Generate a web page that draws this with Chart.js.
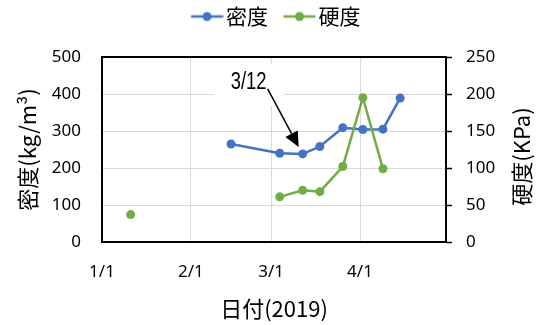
<!DOCTYPE html>
<html>
<head>
<meta charset="utf-8">
<script src="https://cdn.jsdelivr.net/npm/chart.js@4/dist/chart.umd.min.js"></script>
<style>
  html, body { margin: 0; padding: 0; background: #fff; overflow: hidden; }
  #wrap { width: 542px; height: 325px; }
</style>
</head>
<body>
<div id="wrap"><canvas id="chart"></canvas></div>
<script>
  // sampling dates (2019)
  const dates = ["1/11", "2/15", "3/4", "3/12", "3/18", "3/26", "4/2", "4/9", "4/15"];
  // 密度 kg/m3 (left axis)
  const density = [null, 265, 240, 238, 258, 309, 304, 305, 389];
  // 硬度 KPa (right axis)
  const hardness = [37, null, 61, 70, 68, 102, 195, 99, null];
  const xTickLabels = ["1/1", "2/1", "3/1", "4/1"];
  const xEnd = "5/1";
  const seriesNames = ["密度", "硬度"];
  const annotationDate = "3/12";
  const xTitle = "日付(2019)";
  const leftTitle = "密度(kg/m³)";
  const rightTitle = "硬度(KPa)";

  const BLUE = "#4472C4";
  const GREEN = "#70AD47";
  const GRID = "#d9d9d9";
  const tickFont = { family: "'Noto Sans', sans-serif", size: 17 };
  const titleFont = { family: "'Noto Sans CJK JP', sans-serif", size: 22 };

  // day number counted from 1/1
  const dayOf = (md) => {
    const [m, d] = md.split("/").map(Number);
    return (Date.UTC(2019, m - 1, d) - Date.UTC(2019, 0, 1)) / 86400000;
  };
  const tickDays = xTickLabels.map(dayOf);

  // line + dot legend marker
  function legendMarker(color) {
    const c = document.createElement("canvas");
    c.width = 50;
    c.height = 12;
    const g = c.getContext("2d");
    g.strokeStyle = color;
    g.lineWidth = 2.5;
    g.beginPath();
    g.moveTo(17.5, 6);
    g.lineTo(49.5, 6);
    g.stroke();
    g.fillStyle = color;
    g.beginPath();
    g.arc(33.5, 6, 4.5, 0, Math.PI * 2);
    g.fill();
    return c;
  }

  // make the legend take the whole top band
  const legendHeight = {
    id: "legendHeight",
    beforeInit(chart) {
      const fit = chart.legend.fit;
      chart.legend.fit = function () {
        fit.call(this);
        this.height = 57;
      };
    },
  };

  // top frame line, right title, 3/12 callout
  const extras = {
    id: "extras",
    afterDraw(chart) {
      const { ctx, chartArea } = chart;
      ctx.save();
      ctx.strokeStyle = "#000";
      ctx.lineWidth = 2;
      ctx.beginPath();
      ctx.moveTo(chartArea.left - 1, chartArea.top);
      ctx.lineTo(chartArea.right + 1, chartArea.top);
      ctx.stroke();

      // right axis title, reads bottom to top
      ctx.translate(522, (chartArea.top + chartArea.bottom) / 2 + 7);
      ctx.rotate(-Math.PI / 2);
      ctx.fillStyle = "#000";
      ctx.font = "22px 'Noto Sans CJK JP', sans-serif";
      ctx.textAlign = "center";
      ctx.textBaseline = "middle";
      ctx.fillText(rightTitle, 0, 0);
      ctx.restore();

      // callout
      const pt = chart.getDatasetMeta(0).data[dates.indexOf(annotationDate)];
      const cx = pt.x - 54;
      const cy = pt.y - 71;
      ctx.save();
      ctx.fillStyle = "#fff";
      ctx.fillRect(cx - 35, cy - 19, 70, 42);
      ctx.fillStyle = "#000";
      ctx.save();
      ctx.translate(cx, cy);
      ctx.scale(0.8, 1);
      ctx.font = "23px 'Liberation Sans', sans-serif";
      ctx.textAlign = "center";
      ctx.textBaseline = "middle";
      ctx.fillText(annotationDate, 0, 0);
      ctx.restore();

      const sx = pt.x - 35, sy = pt.y - 65;
      const tx = pt.x - 4, ty = pt.y - 7;
      const ang = Math.atan2(ty - sy, tx - sx);
      const len = 15, half = 7;
      const bx = tx - len * Math.cos(ang), by = ty - len * Math.sin(ang);
      ctx.strokeStyle = "#000";
      ctx.lineWidth = 1.5;
      ctx.beginPath();
      ctx.moveTo(sx, sy);
      ctx.lineTo(bx, by);
      ctx.stroke();
      ctx.beginPath();
      ctx.moveTo(tx, ty);
      ctx.lineTo(bx + half * Math.sin(ang), by - half * Math.cos(ang));
      ctx.lineTo(bx - half * Math.sin(ang), by + half * Math.cos(ang));
      ctx.closePath();
      ctx.fill();
      ctx.restore();
    },
  };

  const series = [
    { name: seriesNames[0], values: density, color: BLUE, axis: "y", order: 1 },
    { name: seriesNames[1], values: hardness, color: GREEN, axis: "y1", order: 0 },
  ];

  new Chart(document.getElementById("chart"), {
    type: "line",
    data: {
      datasets: series.map((s) => ({
        label: s.name,
        data: dates.map((d, i) => ({ x: dayOf(d), y: s.values[i] })),
        yAxisID: s.axis,
        order: s.order,
        borderColor: s.color,
        backgroundColor: s.color,
        borderWidth: 2.5,
        pointRadius: 4.5,
        pointBorderWidth: 0,
        pointBackgroundColor: s.color,
        spanGaps: false,
        tension: 0,
      })),
    },
    options: {
      responsive: true,
      maintainAspectRatio: false,
      animation: false,
      layout: { padding: 0 },
      plugins: {
        tooltip: { enabled: false },
        legend: {
          position: "top",
          labels: {
            usePointStyle: true,
            pointStyleWidth: 34,
            padding: 6,
            color: "#000",
            font: { family: "'Noto Sans CJK JP', sans-serif", size: 21 },
            generateLabels: (chart) =>
              chart.data.datasets.map((ds, i) => ({
                text: ds.label,
                fillStyle: ds.borderColor,
                strokeStyle: ds.borderColor,
                lineWidth: 0,
                pointStyle: legendMarker(ds.borderColor),
                fontColor: "#000",
                hidden: false,
                datasetIndex: i,
              })),
          },
        },
      },
      scales: {
        x: {
          type: "linear",
          min: 0,
          max: dayOf(xEnd),
          afterBuildTicks: (scale) => {
            scale.ticks = tickDays.map((v) => ({ value: v }));
          },
          afterFit: (scale) => {
            scale.height = 83;
          },
          grid: { color: GRID, drawTicks: false },
          border: { color: "#000", width: 2, z: 1 },
          ticks: {
            autoSkip: false,
            maxRotation: 0,
            padding: 20,
            color: "#000",
            font: tickFont,
            callback: (v) => xTickLabels[tickDays.indexOf(v)],
          },
          title: {
            display: true,
            text: xTitle,
            color: "#000",
            font: titleFont,
            padding: { top: 0, bottom: 3 },
          },
        },
        y: {
          position: "left",
          min: 0,
          max: 500,
          afterFit: (scale) => {
            scale.width = 102;
          },
          grid: { color: GRID, drawTicks: false },
          border: { color: "#000", width: 2, z: 1 },
          ticks: { stepSize: 100, padding: 21, color: "#000", font: tickFont },
          title: {
            display: true,
            text: leftTitle,
            color: "#000",
            font: titleFont,
            padding: { top: 14, bottom: 0 },
          },
        },
        y1: {
          position: "right",
          min: 0,
          max: 250,
          afterFit: (scale) => {
            scale.width = 96;
          },
          grid: {
            drawOnChartArea: false,
            drawTicks: true,
            tickLength: 6,
            tickColor: "#000",
            tickWidth: 1.5,
          },
          border: { color: "#000", width: 2, z: 1 },
          ticks: { stepSize: 50, padding: 14, color: "#000", font: tickFont },
        },
      },
    },
    plugins: [legendHeight, extras],
  });
</script>
</body>
</html>
